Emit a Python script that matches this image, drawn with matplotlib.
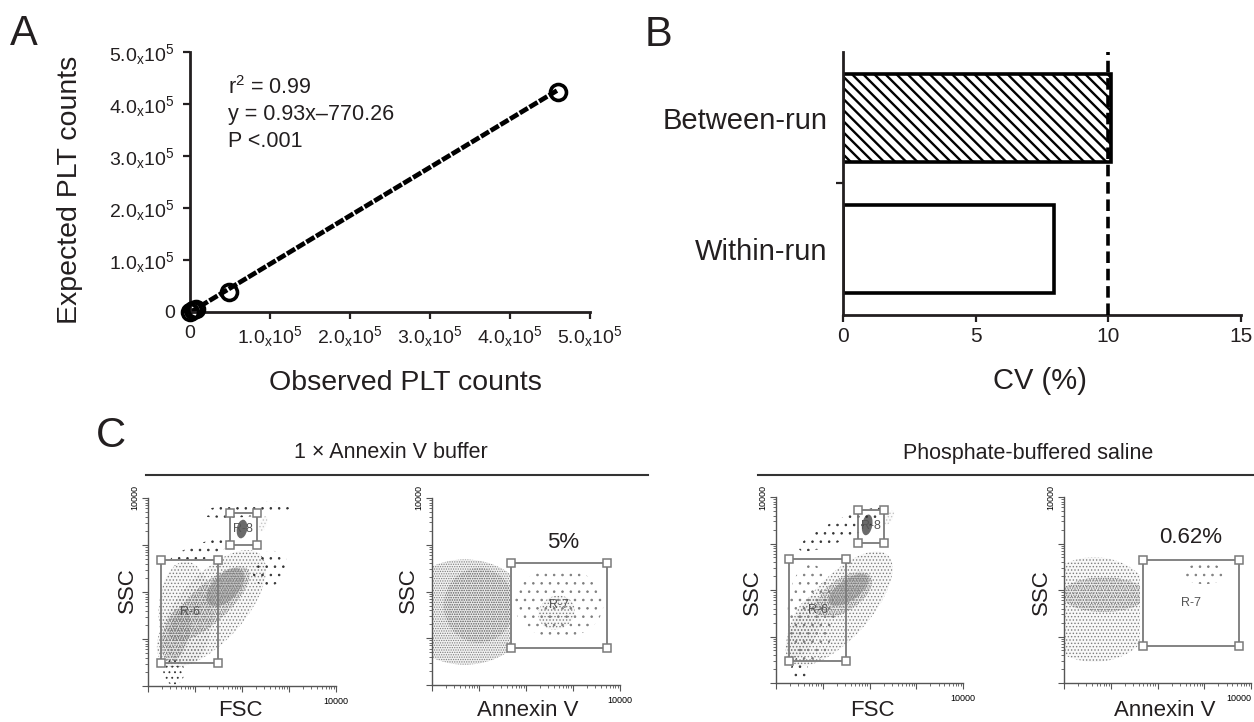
import matplotlib.pyplot as plt
import numpy as np
from matplotlib.patches import Ellipse, Rectangle
from matplotlib.lines import Line2D

plt.rcParams['font.family'] = ['Liberation Sans', 'DejaVu Sans']
plt.rcParams['mathtext.fontset'] = 'custom'
plt.rcParams['mathtext.rm'] = 'Liberation Sans'
plt.rcParams['mathtext.it'] = 'Liberation Sans:italic'

ink = '#231f20'

### PANEL A DATA
observed = [0, 4000, 8000, 49000, 460000]
expected = [0, 3000, 6000, 38500, 423000]
fit_slope = 0.93
fit_intercept = -770.26
fit_x = [0, 460000]
a_ticks = [0, 1e5, 2e5, 3e5, 4e5, 5e5]
a_ticklabels = ['0', r'$1.0_{\mathrm{x}}10^{5}$', r'$2.0_{\mathrm{x}}10^{5}$',
                r'$3.0_{\mathrm{x}}10^{5}$', r'$4.0_{\mathrm{x}}10^{5}$', r'$5.0_{\mathrm{x}}10^{5}$']
a_stats = ['r$^2$ = 0.99', 'y = 0.93x\u2013770.26', 'P <.001']

### PANEL B DATA
cv_groups = ['Within-run', 'Between-run']
cv_values = [7.95, 10.1]
cv_limit = 10
cv_ticks = [0, 5, 10, 15]

### PANEL C DATA (log10 of channel value, 0..4)
# gates: x0, x1, y0, y1
gate_r6_buffer = [0.28, 1.49, 0.49, 2.68]
gate_r8_buffer = [1.74, 2.32, 3.00, 3.68]
gate_r7_buffer = [1.68, 3.72, 0.79, 2.62]
gate_r6_pbs = [0.28, 1.50, 0.47, 2.67]
gate_r8_pbs = [1.75, 2.31, 3.02, 3.72]
gate_r7_pbs = [1.69, 3.74, 0.79, 2.65]
annexin_pct_buffer = '5%'
annexin_pct_pbs = '0.62%'

# event clouds: cx, cy, width, height, angle, density (0 sparse .. 3 dense), population
cloud_fsc_buffer = [
  (1.35, 1.65, 3.10, 1.40, 48, 1, 'plt'),
  (0.80, 1.55, 1.15, 2.20, 0, 1, 'plt'),
  (1.30, 1.75, 2.20, 0.80, 42, 2, 'plt'),
  (1.65, 2.10, 1.00, 0.55, 45, 3, 'plt'),
  (0.60, 1.10, 1.20, 0.55, 75, 2, 'plt'),
  (2.00, 3.34, 0.40, 0.22, 80, 3, 'bead'),
  (2.45, 3.45, 0.35, 0.15, 70, 1, 'light'),
  (0.55, 0.30, 0.45, 0.55, 0, 1, 'debris'),
  (1.10, 2.85, 1.40, 0.35, 20, 0, 'debris'),
  (2.10, 3.75, 2.00, 0.30, 5, 0, 'debris'),
  (2.60, 2.50, 0.80, 0.70, 45, 0, 'debris'),
]
cloud_ann_buffer = [
  (0.70, 1.56, 2.80, 2.25, 0, 2, 'plt'),
  (1.00, 1.70, 1.50, 1.60, 0, 2, 'plt'),
  (2.70, 1.75, 1.90, 1.50, 0, 0, 'plt'),
  (2.65, 1.55, 0.80, 0.70, 30, 1, 'plt'),
]
cloud_fsc_pbs = [
  (1.35, 1.60, 3.10, 1.30, 48, 1, 'plt'),
  (0.75, 1.50, 1.00, 2.10, 0, 0, 'plt'),
  (0.60, 1.20, 1.40, 0.60, 70, 1, 'plt'),
  (1.45, 1.90, 1.40, 0.70, 35, 2, 'plt'),
  (1.55, 2.00, 1.00, 0.45, 35, 3, 'plt'),
  (1.95, 3.40, 0.45, 0.22, 80, 3, 'bead'),
  (2.42, 3.55, 0.35, 0.15, 60, 1, 'light'),
  (0.50, 0.30, 0.35, 0.50, 0, 0, 'debris'),
  (1.40, 3.30, 2.00, 0.45, 25, 0, 'debris'),
]
cloud_ann_pbs = [
  (0.65, 1.58, 2.60, 2.25, 0, 1, 'plt'),
  (0.85, 1.90, 1.80, 0.75, 0, 2, 'plt'),
  (3.00, 2.35, 0.90, 0.45, 0, 0, 'plt'),
]

### STYLE
hatch_for = {0: '..', 1: '.....', 2: '.......', 3: '..........'}
debris_hatch = {0: '..', 1: '...'}
dot_col = {'plt': '#7d7d7d', 'bead': '#5a5a5a', 'light': '#c4c4c4', 'debris': '#333333'}
fill_alpha = {0: 0.0, 1: 0.05, 2: 0.10, 3: 0.18}
gate_col = '#7a7a7a'


fig = plt.figure(figsize=(12.54, 7.22), dpi=100)
W, H = 1254.0, 722.0


def frect(x0, y0, x1, y1):
  # pixel box (top-left origin) -> figure fraction rect
  return [x0 / W, 1 - y1 / H, (x1 - x0) / W, (y1 - y0) / H]


def ftext(x, y, s, **kw):
  fig.text(x / W, 1 - y / H, s, color=ink, **kw)


#############################
### PANEL A
#############################
ax = fig.add_axes(frect(190, 52, 590, 312))
fit_y = [fit_slope * v + fit_intercept for v in fit_x]
ax.plot(fit_x, fit_y, color='black', lw=3.4, dashes=(2.0, 0.4), zorder=2, clip_on=False)
ax.plot(observed, expected, ls='none', marker='o', ms=11.5, mfc='none', mec='black', mew=2.6,
        zorder=3, clip_on=False)
ax.set_xlim(0, 5e5)
ax.set_ylim(0, 5e5)
for s in ['top', 'right']:
  ax.spines[s].set_visible(False)
for s in ['left', 'bottom']:
  ax.spines[s].set_linewidth(2)
  ax.spines[s].set_color(ink)
ax.set_xticks(a_ticks, a_ticklabels)
ax.set_yticks(a_ticks, a_ticklabels)
ax.tick_params(length=5, width=1.6, color=ink, labelsize=14, labelcolor=ink)
ax.tick_params(axis='y', pad=6)
ax.tick_params(axis='x', pad=4)
for i, s in enumerate(a_stats):
  ax.text(0.095, 0.862 - i * 0.104, s, transform=ax.transAxes, fontsize=15.5, color=ink, va='center')

ftext(70, 190, 'Expected PLT counts', fontsize=20.5, rotation=90, ha='center', va='center')
ftext(405, 383, 'Observed PLT counts', fontsize=20.5, ha='center', va='center')
ftext(10, 34, 'A', fontsize=30, va='center')

#############################
### PANEL B
#############################
plt.rcParams['hatch.linewidth'] = 1.7
bx = fig.add_axes(frect(843, 52, 1241, 315))
ypos = [0, 1]
hatches = ['', '\\\\\\']
for y, v, h in zip(ypos, cv_values, hatches):
  bar = bx.barh(y, v, height=0.67, color='white', edgecolor='black', lw=2.6, hatch=h, zorder=2)
  for p in bar:
    if hasattr(p, 'set_hatch_linewidth'):
      p.set_hatch_linewidth(1.7)
bx.axvline(cv_limit, color='black', lw=2.6, dashes=(3.2, 1.6), zorder=3)
bx.set_xlim(0, 15)
bx.set_ylim(-0.5, 1.5)
for s in ['top', 'right']:
  bx.spines[s].set_visible(False)
for s in ['left', 'bottom']:
  bx.spines[s].set_linewidth(2)
  bx.spines[s].set_color(ink)
bx.set_xticks(cv_ticks)
bx.set_yticks(ypos, cv_groups)
bx.set_yticks([0.5], minor=True)
bx.tick_params(axis='x', length=5, width=1.6, color=ink, labelsize=15, labelcolor=ink, pad=4)
bx.tick_params(axis='y', which='major', length=0, labelsize=21, labelcolor=ink, pad=11)
bx.tick_params(axis='y', which='minor', length=5, width=1.6, color=ink)

ftext(1040, 381, 'CV (%)', fontsize=21, ha='center', va='center')
ftext(645, 35, 'B', fontsize=30, va='center')

#############################
### PANEL C
#############################
plt.rcParams['hatch.linewidth'] = 0.6
minor_pos = [np.log10(k) + d for d in range(4) for k in range(2, 10)]


def flow_axes(box):
  f = fig.add_axes(frect(*box))
  f.set_xlim(0, 4)
  f.set_ylim(0, 4)
  for s in ['top', 'right']:
    f.spines[s].set_visible(False)
  for s in ['left', 'bottom']:
    f.spines[s].set_linewidth(1.0)
    f.spines[s].set_color('#555555')
  f.set_xticks(range(5), ['', '', '', '', '10000'])
  f.set_yticks(range(5), ['', '', '', '', '10000'])
  f.set_xticks(minor_pos, minor=True)
  f.set_yticks(minor_pos, minor=True)
  for lab in f.get_yticklabels():
    lab.set_rotation(90)
    lab.set_va('center')
  f.tick_params(which='major', length=4, width=0.8, color='#555555', labelsize=6.5, pad=2)
  f.tick_params(which='minor', length=2.5, width=0.6, color='#555555')
  f.tick_params(axis='x', pad=4)
  return f


def draw_clouds(f, clouds, clip_x=None):
  clip = None
  if clip_x is not None:
    clip = Rectangle((0, 0), clip_x, 4, transform=f.transData)
  for cx, cy, w, h, ang, lev, pop in clouds:
    col = dot_col[pop]
    if pop == 'bead':
      e = Ellipse((cx, cy), w, h, angle=ang, facecolor=col, edgecolor='none', alpha=0.9, zorder=1)
      f.add_patch(e)
      continue
    if pop == 'debris':
      hatch = debris_hatch[lev]
    else:
      hatch = hatch_for[lev]
      if fill_alpha[lev] > 0:
        e = Ellipse((cx, cy), w, h, angle=ang, facecolor=col, edgecolor='none',
                    alpha=fill_alpha[lev], zorder=1)
        f.add_patch(e)
        if clip is not None:
          e.set_clip_path(clip)
    e = Ellipse((cx, cy), w, h, angle=ang, facecolor='none', edgecolor=col, lw=0,
                hatch=hatch, zorder=1)
    if hasattr(e, 'set_hatch_linewidth'):
      e.set_hatch_linewidth(0.6)
    f.add_patch(e)
    if clip is not None:
      e.set_clip_path(clip)


def draw_gate(f, gate, name):
  x0, x1, y0, y1 = gate
  f.plot([x0, x1, x1, x0, x0], [y0, y0, y1, y1, y0], color=gate_col, lw=1.3, zorder=4)
  f.plot([x0, x1, x1, x0], [y0, y0, y1, y1], ls='none', marker='s', ms=5.5, mfc='white',
         mec=gate_col, mew=1.1, zorder=5)
  f.text((x0 + x1) / 2, (y0 + y1) / 2, name, fontsize=9, color='#555555', ha='center', va='center', zorder=6)


c1 = flow_axes((148, 498, 336, 686))
draw_clouds(c1, cloud_fsc_buffer)
draw_gate(c1, gate_r6_buffer, 'R-6')
draw_gate(c1, gate_r8_buffer, 'R-8')

c2 = flow_axes((432, 498, 620, 685))
draw_clouds(c2, cloud_ann_buffer[:2], clip_x=gate_r7_buffer[0] - 0.02)
draw_clouds(c2, cloud_ann_buffer[2:])
draw_gate(c2, gate_r7_buffer, 'R-7')
c2.text(2.78, 3.05, annexin_pct_buffer, fontsize=16, color=ink, ha='center', va='center')

c3 = flow_axes((776, 497, 963, 683))
draw_clouds(c3, cloud_fsc_pbs)
draw_gate(c3, gate_r6_pbs, 'R-6')
draw_gate(c3, gate_r8_pbs, 'R-8')

c4 = flow_axes((1064, 497, 1251, 683))
draw_clouds(c4, cloud_ann_pbs[:2], clip_x=gate_r7_pbs[0] - 0.07)
draw_clouds(c4, cloud_ann_pbs[2:])
draw_gate(c4, gate_r7_pbs, 'R-7')
c4.text(2.70, 3.13, annexin_pct_pbs, fontsize=16, color=ink, ha='center', va='center')
c4.get_xticklabels()[-1].set_ha('right')

for x, y in [(127, 590), (408, 590), (752, 592), (1041, 592)]:
  ftext(x, y, 'SSC', fontsize=16, rotation=90, ha='center', va='center')
for x, s in [(240, 'FSC'), (528, 'Annexin V'), (872, 'FSC'), (1165, 'Annexin V')]:
  ftext(x, 710, s, fontsize=16, ha='center', va='center')

# group headers
ftext(391, 453, '1 \u00d7 Annexin V buffer', fontsize=15.5, ha='center', va='center')
ftext(1028, 453, 'Phosphate-buffered saline', fontsize=15.5, ha='center', va='center')
fig.add_artist(Line2D([146 / W, 648 / W], [1 - 475 / H, 1 - 475 / H], color='#333333', lw=1.5))
fig.add_artist(Line2D([758 / W, 1.0], [1 - 475 / H, 1 - 475 / H], color='#333333', lw=1.5))
ftext(96, 436, 'C', fontsize=30, va='center')

fig.savefig('out.png', dpi=100)
